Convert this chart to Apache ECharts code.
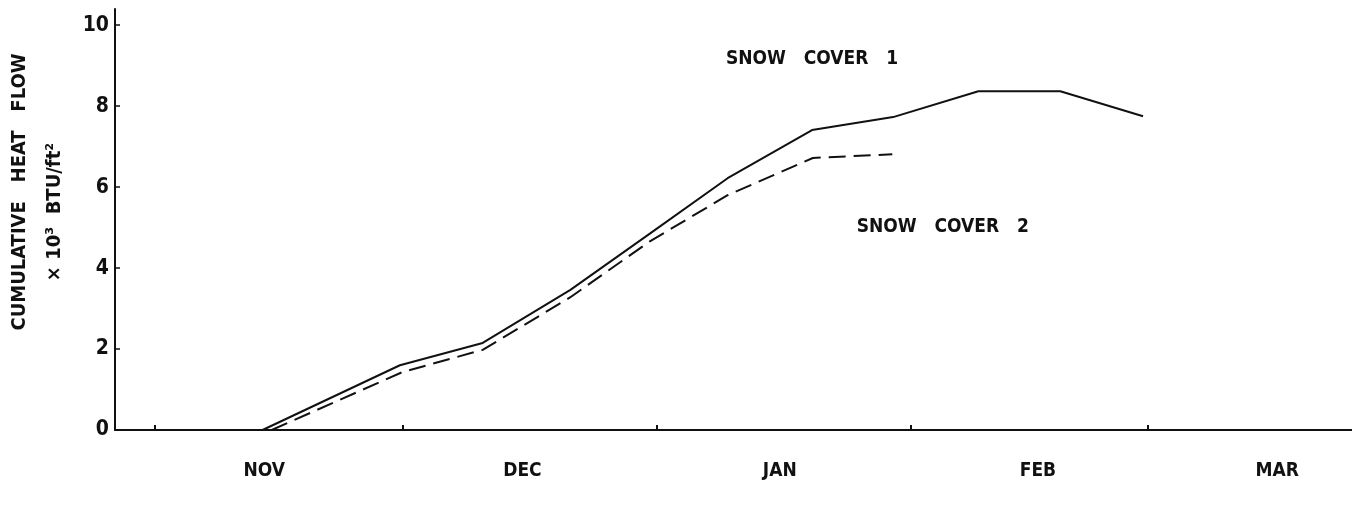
<!DOCTYPE html>
<html><head><meta charset="utf-8">
<script src="https://cdn.jsdelivr.net/npm/echarts@6/dist/echarts.min.js"></script>
<style>html,body{margin:0;padding:0;background:#fff}#c{width:1352px;height:508px}</style>
</head><body><div id="c"></div>
<script>
// x in days since Nov 1
const monthNames = ['NOV', 'DEC', 'JAN', 'FEB', 'MAR'];
const monthTickDays = [0, 29.9, 60.6, 91.3, 120];
const monthLabelDays = [13.2, 44.4, 75.5, 106.7, 135.6];
const yTicks = [0, 2, 4, 6, 8, 10];

const snow1Days = [13, 29.6, 39.6, 50.2, 59.8, 69.2, 79.4, 89.2, 99.5, 109.4, 119.4];
const snow1Values = [0, 1.6, 2.15, 3.46, 4.85, 6.22, 7.41, 7.73, 8.37, 8.37, 7.75];
const snow2Days = [14.1, 29.9, 39.6, 50.2, 59.8, 69.2, 79.5, 89.1];
const snow2Values = [0, 1.43, 1.98, 3.28, 4.66, 5.8, 6.72, 6.81];

const noteTexts = ['SNOW   COVER   1', 'SNOW   COVER   2'];
const noteDays = [79.4, 95.2];
const noteValues = [9.17, 5.01];

const FONT = "'Liberation Sans Narrow', 'DejaVu Sans Condensed', sans-serif";
const INK = '#111';

const chart = echarts.init(document.getElementById('c'), null, { renderer: 'canvas' });
chart.setOption({
  animation: false,
  backgroundColor: '#fff',
  grid: { left: 115, right: 0, top: 9, bottom: 78, containLabel: false },
  xAxis: {
    type: 'value',
    min: -4.83, max: 144.65,
    splitLine: { show: false },
    axisLine: { show: true, lineStyle: { color: INK, width: 2 } },
    axisTick: { show: true, inside: true, length: 5, customValues: monthTickDays, lineStyle: { color: INK, width: 2 } },
    axisLabel: {
      show: true, customValues: monthLabelDays, margin: 32,
      formatter: v => { const i = monthLabelDays.findIndex(d => Math.abs(d - v) < 0.01); return i >= 0 ? monthNames[i] : ''; },
      color: INK, fontFamily: FONT, fontWeight: 'bold', fontSize: 19
    }
  },
  yAxis: {
    type: 'value',
    min: 0, max: 10.4,
    splitLine: { show: false },
    axisLine: { show: true, onZero: false, lineStyle: { color: INK, width: 2 } },
    axisTick: { show: true, inside: true, length: 5, customValues: yTicks, lineStyle: { color: INK, width: 1.5 } },
    axisLabel: {
      show: true, customValues: yTicks, margin: 6,
      color: INK, fontFamily: FONT, fontWeight: 'bold', fontSize: 21
    }
  },
  series: [
    {
      name: 'SNOW COVER 1', type: 'line',
      data: snow1Days.map((d, i) => [d, snow1Values[i]]),
      symbol: 'none', lineStyle: { color: INK, width: 2 }
    },
    {
      name: 'SNOW COVER 2', type: 'line',
      data: snow2Days.map((d, i) => [d, snow2Values[i]]),
      symbol: 'none', lineStyle: { color: INK, width: 2, type: [17, 8] }
    },
    {
      name: 'notes', type: 'scatter', symbolSize: 0, silent: true,
      itemStyle: { opacity: 1, color: INK },
      data: noteDays.map((d, i) => ({ value: [d, noteValues[i]], name: noteTexts[i] })),
      label: {
        show: true, position: 'inside', formatter: p => p.name, opacity: 1,
        color: INK, fontFamily: FONT, fontWeight: 'bold', fontSize: 19
      }
    }
  ],
  graphic: [
    {
      type: 'text', x: 20, y: 192, rotation: Math.PI / 2,
      style: { text: 'CUMULATIVE   HEAT   FLOW', fill: INK, font: "bold 20px " + FONT, align: 'center', verticalAlign: 'middle' }
    },
    {
      type: 'text', x: 55, y: 212, rotation: Math.PI / 2,
      style: { text: '× 10³  BTU/ft²', fill: INK, font: "bold 20px " + FONT, align: 'center', verticalAlign: 'middle' }
    }
  ]
});
</script></body></html>
